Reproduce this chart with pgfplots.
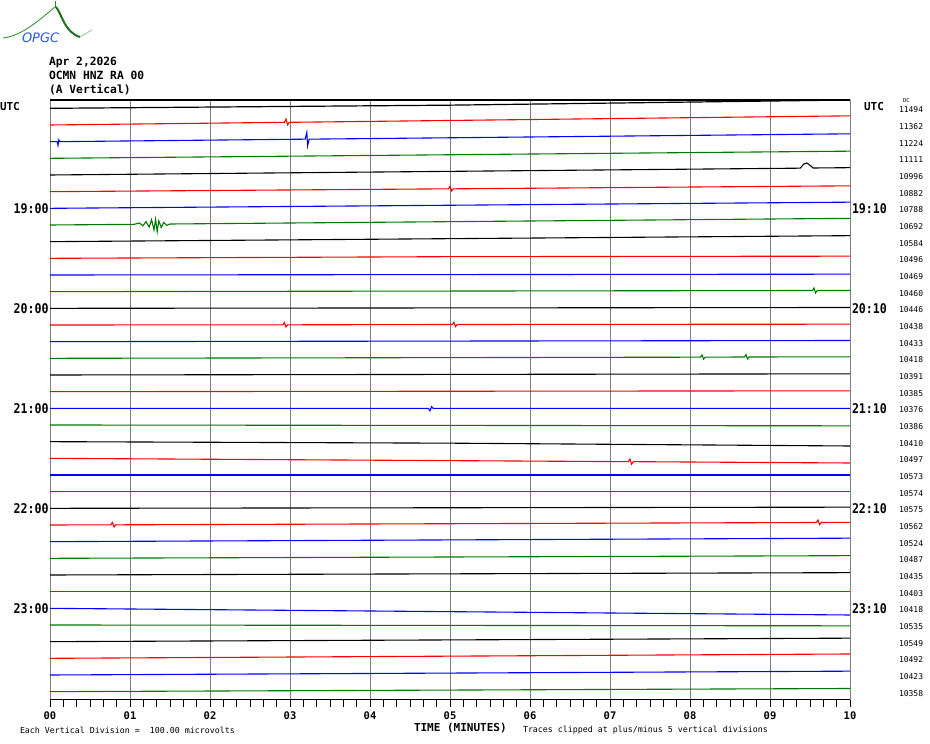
\documentclass[border=0pt]{standalone}
\usepackage{pgfplots}
\pgfplotsset{compat=1.18}
\usepackage{fontspec}
\setmainfont{DejaVu Sans Mono}
\newfontfamily\mono{DejaVu Sans Mono}
\newfontfamily\logofont{DejaVu Sans}
\definecolor{tgreen}{RGB}{0,120,0}
\definecolor{tred}{RGB}{255,0,0}
\definecolor{tblue}{RGB}{0,0,255}
\definecolor{gridgray}{RGB}{128,128,128}
\definecolor{logoblue}{RGB}{40,90,220}
\definecolor{logogreen}{RGB}{40,140,40}
\begin{document}
\begin{tikzpicture}[x=1pt,y=1pt,every node/.style={inner sep=0pt,outer sep=0pt}]
\path[use as bounding box] (0,0) rectangle (930,744);
% logo
\draw[logogreen,line width=0.8pt] (3,706) .. controls (20,708) and (35,720) .. (55,737);
\draw[logogreen!80!black,line width=2pt] (56,737) .. controls (62,730) and (64,712) .. (80,707);
\draw[logogreen!50!white,line width=0.8pt] (80,707) -- (92,714);
\draw[logogreen,line width=0.8pt] (55,736) -- (55,743);
\node[anchor=west,text=logoblue] at (22,706) {\logofont\itshape\fontsize{13}{13}\selectfont OPGC};
% header
\node[anchor=base west] at (49,678) {\mono\bfseries\fontsize{11.3}{12}\selectfont Apr 2,2026};
\node[anchor=base west] at (49,664) {\mono\bfseries\fontsize{11.3}{12}\selectfont OCMN HNZ RA 00};
\node[anchor=base west] at (49,650) {\mono\bfseries\fontsize{11.3}{12}\selectfont (A Vertical)};
\begin{axis}[
  at={(50pt,44pt)}, anchor=south west,
  width=800pt, height=600pt, scale only axis,
  xmin=0, xmax=10, ymin=-35.5, ymax=0.5,
  axis line style={draw=none},
  xtick={0,1,2,3,4,5,6,7,8,9,10},
  xticklabels={00,01,02,03,04,05,06,07,08,09,10},
  minor x tick num=5,
  xmajorgrids,
  major grid style={gridgray,line width=1pt},
  ytick=\empty,
  tick align=outside,
  xtick pos=bottom,
  major tick length=7pt, minor tick length=7pt,
  tick style={black,line width=0.8pt},
  xticklabel style={font=\mono\bfseries\fontsize{10.5}{11}\selectfont, yshift=-4.5pt},
  clip=true,
]
\addplot[black,line width=1.2pt] coordinates {(0,0) (5,0.19) (10,0.5)};
\addplot[tred,line width=1.1pt] coordinates {(0,-1) (2.93,-0.84) (2.95,-0.64) (2.97,-0.99) (2.99,-0.84) (10,-0.45)};
\addplot[tblue,line width=1.1pt] coordinates {(0,-2) (0.09,-2.0) (0.10,-2.22) (0.11,-1.9) (0.12,-2.0) (3.19,-1.85) (3.21,-1.45) (3.22,-2.25) (3.24,-1.85) (10,-1.53)};
\addplot[tgreen,line width=1.1pt] coordinates {(0,-3) (10,-2.57)};
\addplot[black,line width=1.1pt] coordinates {(0,-4) (9.38,-3.59) (9.42,-3.35) (9.46,-3.28) (9.50,-3.42) (9.54,-3.58) (10,-3.56)};
\addplot[tred,line width=1.1pt] coordinates {(0,-5) (4.98,-4.83) (5.00,-4.68) (5.02,-4.95) (5.04,-4.83) (10,-4.65)};
\addplot[tblue,line width=1.1pt] coordinates {(0,-6) (10,-5.63)};
\addplot[tgreen,line width=1.1pt] coordinates {(0,-7) (1.05,-6.96) (1.12,-6.88) (1.16,-7.05) (1.20,-6.80) (1.24,-7.12) (1.27,-6.68) (1.30,-7.30) (1.32,-6.65) (1.34,-7.40) (1.36,-6.75) (1.39,-7.15) (1.42,-6.85) (1.46,-7.02) (1.50,-6.94) (10,-6.60)};
\addplot[black,line width=1.1pt] coordinates {(0,-8) (10,-7.64)};
\addplot[tred,line width=1.1pt] coordinates {(0,-9) (5,-8.9) (10,-8.87)};
\addplot[tblue,line width=1.1pt] coordinates {(0,-10) (10,-9.95)};
\addplot[tgreen,line width=1.1pt] coordinates {(0,-11) (9.53,-10.93) (9.55,-10.78) (9.57,-11.08) (9.59,-10.93) (10,-10.93)};
\addplot[black,line width=1.1pt] coordinates {(0,-12) (10,-11.95)};
\addplot[tred,line width=1.1pt] coordinates {(0,-13) (2.91,-12.99) (2.93,-12.85) (2.95,-13.12) (2.97,-12.99) (5.03,-12.97) (5.05,-12.84) (5.07,-13.10) (5.09,-12.97) (10,-12.95)};
\addplot[tblue,line width=1.1pt] coordinates {(0,-14) (10,-13.93)};
\addplot[tgreen,line width=1.1pt] coordinates {(0,-15) (8.13,-14.93) (8.15,-14.80) (8.17,-15.05) (8.19,-14.93) (8.68,-14.92) (8.70,-14.78) (8.72,-15.04) (8.74,-14.92) (10,-14.91)};
\addplot[black,line width=1.1pt] coordinates {(0,-16) (10,-15.93)};
\addplot[tred,line width=1.1pt] coordinates {(0,-17) (10,-16.95)};
\addplot[tblue,line width=1.1pt] coordinates {(0,-18) (4.73,-18) (4.75,-18.15) (4.77,-17.9) (4.79,-18) (10,-18)};
\addplot[tgreen,line width=1.1pt] coordinates {(0,-19) (10,-19.05)};
\addplot[black,line width=1.1pt] coordinates {(0,-20) (5,-20.09) (10,-20.26)};
\addplot[tred,line width=1.1pt] coordinates {(0,-21) (7.23,-21.20) (7.25,-21.05) (7.27,-21.35) (7.29,-21.20) (10,-21.28)};
\addplot[tblue,line width=1.1pt] coordinates {(0,-22) (10,-22)};
\addplot[tgreen,line width=1.1pt] coordinates {(0,-23) (10,-23)};
\addplot[black,line width=1.1pt] coordinates {(0,-24) (10,-23.93)};
\addplot[tred,line width=1.1pt] coordinates {(0,-25) (0.76,-24.99) (0.78,-24.85) (0.80,-25.12) (0.82,-24.99) (9.58,-24.85) (9.60,-24.70) (9.62,-24.98) (9.64,-24.85) (10,-24.84)};
\addplot[tblue,line width=1.1pt] coordinates {(0,-26) (10,-25.79)};
\addplot[tgreen,line width=1.1pt] coordinates {(0,-27) (10,-26.84)};
\addplot[black,line width=1.1pt] coordinates {(0,-28) (10,-27.86)};
\addplot[tred,line width=1.1pt] coordinates {(0,-29) (10,-29)};
\addplot[tblue,line width=1.1pt] coordinates {(0,-30) (10,-30.40)};
\addplot[tgreen,line width=1.1pt] coordinates {(0,-31) (10,-31.05)};
\addplot[black,line width=1.1pt] coordinates {(0,-32) (10,-31.79)};
\addplot[tred,line width=1.1pt] coordinates {(0,-33) (10,-32.74)};
\addplot[tblue,line width=1.1pt] coordinates {(0,-34) (10,-33.77)};
\addplot[tgreen,line width=1.1pt] coordinates {(0,-35) (10,-34.81)};
\draw[black,line width=1.2pt] (axis cs:0,0.5) -- (axis cs:10,0.5);
\draw[black,line width=1pt] (axis cs:0,-35.5) -- (axis cs:10,-35.5);
\end{axis}
% left time labels
\def\hl#1{\mono\bfseries\fontsize{11.6}{12}\selectfont\scalebox{1}[1.15]{#1}}
\node[anchor=west] at (0,637) {\mono\bfseries\fontsize{11}{12}\selectfont UTC};
\node[anchor=east] at (48.5,535) {\hl{19:00}};
\node[anchor=east] at (48.5,435) {\hl{20:00}};
\node[anchor=east] at (48.5,335) {\hl{21:00}};
\node[anchor=east] at (48.5,235) {\hl{22:00}};
\node[anchor=east] at (48.5,135) {\hl{23:00}};
% right time labels
\node[anchor=west] at (864,637) {\mono\bfseries\fontsize{11}{12}\selectfont UTC};
\node[anchor=west] at (852,535) {\hl{19:10}};
\node[anchor=west] at (852,435) {\hl{20:10}};
\node[anchor=west] at (852,335) {\hl{21:10}};
\node[anchor=west] at (852,235) {\hl{22:10}};
\node[anchor=west] at (852,135) {\hl{23:10}};
% DC values
\node[anchor=west] at (903,643) {\mono\fontsize{5.5}{6}\selectfont DC};
\foreach \v [count=\i from 0] in {11494,11362,11224,11111,10996,10882,10788,10692,10584,10496,10469,10460,10446,10438,10433,10418,10391,10385,10376,10386,10410,10497,10573,10574,10575,10562,10524,10487,10435,10403,10418,10535,10549,10492,10423,10358}{
  \node[anchor=west] at (899,{744-110-16.667*\i}) {\mono\fontsize{8}{8}\selectfont \v};
}
% footer
\node[anchor=west] at (414,16) {\mono\bfseries\fontsize{11}{12}\selectfont TIME (MINUTES)};
\node[anchor=west] at (20,14) {\mono\fontsize{8.3}{9}\selectfont Each Vertical Division =\ \ 100.00 microvolts};
\node[anchor=west] at (523,14) {\mono\fontsize{8.3}{9}\selectfont Traces clipped at plus/minus 5 vertical divisions};
\end{tikzpicture}
\end{document}
